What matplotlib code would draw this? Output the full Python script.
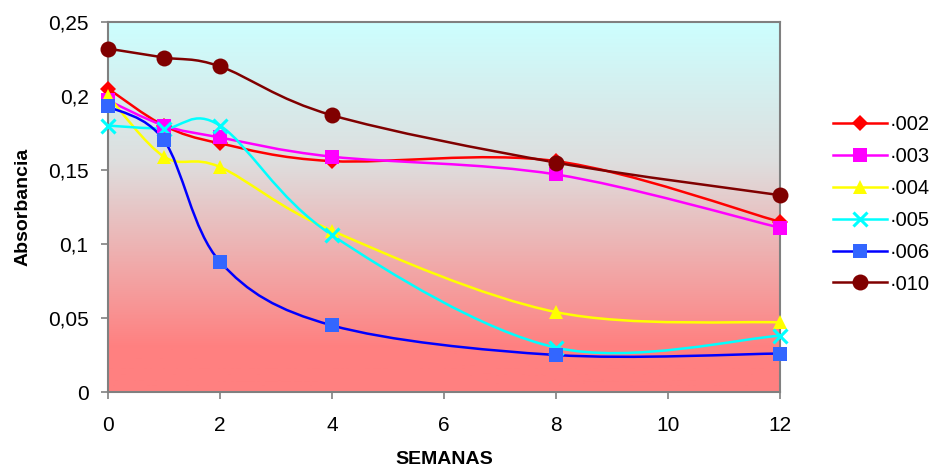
import numpy as np
import matplotlib
matplotlib.use('Agg')
import matplotlib.pyplot as plt
from matplotlib.path import Path
from matplotlib.patches import PathPatch
from matplotlib.lines import Line2D
from matplotlib.ticker import FuncFormatter

plt.rcParams['font.family'] = ['Liberation Sans', 'DejaVu Sans']

# Data
semanas = [0, 1, 2, 4, 8, 12]
s002 = [0.205, 0.180, 0.168, 0.156, 0.156, 0.115]
s003 = [0.197, 0.180, 0.172, 0.159, 0.147, 0.111]
s004 = [0.200, 0.159, 0.152, 0.109, 0.054, 0.047]
s005 = [0.180, 0.178, 0.180, 0.106, 0.030, 0.038]
s006 = [0.193, 0.170, 0.088, 0.045, 0.025, 0.026]
s010 = [0.232, 0.226, 0.220, 0.187, 0.155, 0.133]

labels = ['·002', '·003', '·004', '·005', '·006', '·010']
series = [s002, s003, s004, s005, s006, s010]
line_colors = ['#FF0000', '#FF00FF', '#FFFF00', '#00FFFF', '#0000FF', '#800000']
marker_colors = ['#FF0000', '#FF00FF', '#FFFF00', '#00FFFF', '#3366FF', '#800000']
markers = ['D', 's', '^', 'x', 's', 'o']
msizes = [8.5, 10.5, 10.5, 10.5, 10.5, 11.5]


def smooth_path(x, y):
    # Excel style smoothed line: Catmull-Rom converted to cubic Bezier
    pts = np.column_stack([x, y]).astype(float)
    n = len(pts)
    verts = [pts[0]]
    codes = [Path.MOVETO]
    for i in range(n - 1):
        p0 = pts[i - 1] if i > 0 else pts[i]
        p1 = pts[i]
        p2 = pts[i + 1]
        p3 = pts[i + 2] if i + 2 < n else pts[i + 1]
        c1 = p1 + (p2 - p0) / 6.0
        c2 = p2 - (p3 - p1) / 6.0
        verts += [c1, c2, p2]
        codes += [Path.CURVE4] * 3
    return Path(verts, codes)


fig = plt.figure(figsize=(9.37, 4.71), dpi=100)
ax = fig.add_axes([0.1153, 0.1677, 0.7171, 0.7856])

# gradient background
stops = [0.0, 0.38, 0.88, 1.0]
cols = np.array([[204, 255, 255], [222, 222, 222], [255, 128, 128], [255, 128, 128]]) / 255.0
t = np.linspace(0, 1, 300)
grad = np.stack([np.interp(t, stops, cols[:, k]) for k in range(3)], axis=1)[:, None, :]
ax.imshow(grad, extent=[0, 12, 0, 0.25], aspect='auto', zorder=0, origin='upper')

handles = []
for ys, lc, mc, mk, ms, lab in zip(series, line_colors, marker_colors, markers, msizes, labels):
    ax.add_patch(PathPatch(smooth_path(semanas, ys), fill=False, edgecolor=lc, lw=1.8, zorder=2))
    mew = 2.2 if mk == 'x' else 0
    ax.plot(semanas, ys, ls='none', marker=mk, ms=ms, color=mc, mec=mc, mew=mew, zorder=3, clip_on=False)
    handles.append(Line2D([], [], color=lc, lw=1.8, marker=mk, ms=ms, mfc=mc, mec=mc, mew=mew, label=lab))

ax.set_xlim(0, 12)
ax.set_ylim(0, 0.25)
ax.set_xticks([0, 2, 4, 6, 8, 10, 12])
ax.set_yticks([0, 0.05, 0.1, 0.15, 0.2, 0.25])
ax.yaxis.set_major_formatter(FuncFormatter(lambda v, p: ('%g' % round(v, 2)).replace('.', ',')))

for s in ax.spines.values():
    s.set_color('#808080')
    s.set_linewidth(1.5)
ax.tick_params(direction='out', length=5, width=1.2, color='#808080', labelsize=15)
ax.tick_params(axis='x', pad=12)
ax.tick_params(axis='y', pad=9)

ax.set_xlabel('SEMANAS', fontsize=14, fontweight='bold', labelpad=12)
ax.set_ylabel('Absorbancia', fontsize=14, fontweight='bold', labelpad=12)

fig.legend(handles=handles, loc='upper left', bbox_to_anchor=(0.878, 0.777), frameon=False,
           fontsize=14.5, handlelength=2.7, handletextpad=0.1, labelspacing=0.64, borderpad=0)

fig.savefig('out.png', dpi=100)
